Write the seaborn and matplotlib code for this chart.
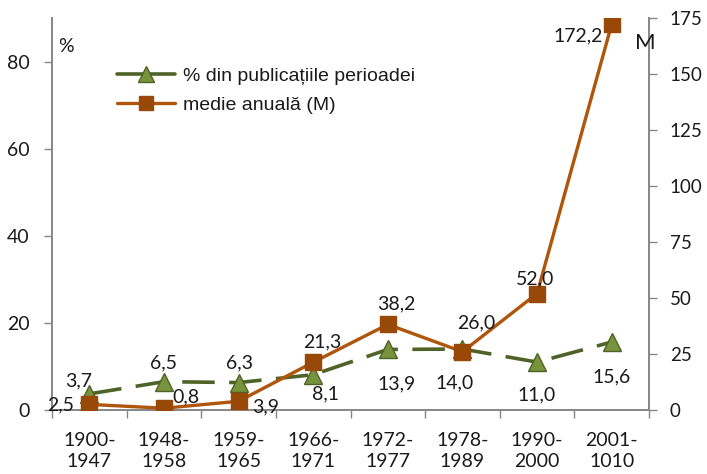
import matplotlib
matplotlib.use("Agg")
import matplotlib.pyplot as plt
import seaborn as sns
import numpy as np
from matplotlib.lines import Line2D

# Periods and series
periods = ["1900-\n1947", "1948-\n1958", "1959-\n1965", "1966-\n1971",
           "1972-\n1977", "1978-\n1989", "1990-\n2000", "2001-\n1010"]
pct_values = [3.7, 6.5, 6.3, 8.1, 13.9, 14.0, 11.0, 15.6]
annual_values = [2.5, 0.8, 3.9, 21.3, 38.2, 26.0, 52.0, 172.2]
pct_name = "% din publicațiile perioadei"
annual_name = "medie anuală (M)"

# label offsets in pixels (dx, dy) for each data label
pct_offsets = [(-11, 13), (0, 19), (1, 20), (12, -19), (9, -34), (-8, -34), (0, -33), (0, -35)]
annual_offsets = [(-29, 0), (22, 11), (27, -6), (9, 20), (9, 21), (14, 29), (-2, 15), (-34, -12)]

sns.set_theme(style="white")
plt.rcParams["font.family"] = ["Lato", "DejaVu Sans"]

GREEN_LINE = "#4F6228"
GREEN_FILL = "#77933C"
ORANGE_LINE = "#AF550C"
ORANGE_FILL = "#984807"
AXIS_GREY = "#868686"
TEXT = "#1a1a1a"
FS = 14

fig = plt.figure(figsize=(7.07, 4.74), dpi=100)
ax = fig.add_axes([52 / 707, 1 - 410 / 474, (649 - 52) / 707, (410 - 18) / 474])
ax2 = ax.twinx()

x = np.arange(len(periods))

sns.lineplot(x=x, y=pct_values, ax=ax, color=GREEN_LINE, linewidth=2.6,
             marker="^", markersize=13, markerfacecolor=GREEN_FILL,
             markeredgecolor=GREEN_LINE, markeredgewidth=1.0, zorder=3)
ax.lines[-1].set_dashes([9, 4])

sns.lineplot(x=x, y=annual_values, ax=ax2, color=ORANGE_LINE, linewidth=2.4,
             marker="s", markersize=11, markerfacecolor=ORANGE_FILL,
             markeredgecolor=ORANGE_FILL, markeredgewidth=1.0, zorder=3)

ax.set_xlim(-0.5, len(periods) - 0.5)
ax.set_ylim(0, 90)
ax2.set_ylim(0, 175)

ax.set_yticks([0, 20, 40, 60, 80])
ax2.set_yticks([0, 25, 50, 75, 100, 125, 150, 175])

# category labels centred, tick marks at category boundaries
ax.set_xticks(np.arange(-0.5, len(periods), 1.0))
ax.set_xticklabels([])
ax.set_xticks(x, minor=True)
ax.set_xticklabels(periods, minor=True)
ax.tick_params(axis="x", which="major", length=6, width=1.0, color=AXIS_GREY, direction="out", bottom=True)
ax.tick_params(axis="x", which="minor", length=0, pad=16, labelsize=FS, labelcolor=TEXT)
ax.tick_params(axis="y", length=6, width=1.0, color=AXIS_GREY, direction="out", left=True,
               labelsize=FS, labelcolor=TEXT, pad=10)
ax2.tick_params(axis="y", length=6, width=1.0, color=AXIS_GREY, direction="out", right=True,
                labelsize=13.5, labelcolor=TEXT, pad=9)
for lbl in ax.get_xticklabels(minor=True):
    lbl.set_linespacing(1.3)

for a in (ax, ax2):
    a.set_xlabel("")
    a.set_ylabel("")
    a.spines["top"].set_visible(False)
    for s in ("left", "right", "bottom"):
        a.spines[s].set_color(AXIS_GREY)
        a.spines[s].set_linewidth(1.2)
ax2.grid(False)
ax.grid(False)

# data labels
for xi, v, (dx, dy) in zip(x, pct_values, pct_offsets):
    ax.annotate(f"{v:.1f}".replace(".", ","), (xi, v), xytext=(dx, dy),
                textcoords="offset pixels", ha="center", va="center",
                fontsize=FS, color=TEXT, zorder=5)
for xi, v, (dx, dy) in zip(x, annual_values, annual_offsets):
    ax2.annotate(f"{v:.1f}".replace(".", ","), (xi, v), xytext=(dx, dy),
                 textcoords="offset pixels", ha="center", va="center",
                 fontsize=FS, color=TEXT, zorder=5)

# axis unit labels
fig.text(66 / 707, 1 - 47 / 474, "%", ha="center", va="center", fontsize=14, color=TEXT)
fig.text(645 / 707, 1 - 43 / 474, "M", ha="center", va="center", fontsize=16, color=TEXT)

handles = [
    Line2D([], [], color=GREEN_LINE, linewidth=2.6, marker="^", markersize=11,
           markerfacecolor=GREEN_FILL, markeredgecolor=GREEN_LINE),
    Line2D([], [], color=ORANGE_LINE, linewidth=2.4, marker="s", markersize=10,
           markerfacecolor=ORANGE_FILL, markeredgecolor=ORANGE_FILL),
]
leg = ax.legend(handles, [pct_name, annual_name], loc="upper left",
                bbox_to_anchor=(117 / 707, 1 - 67 / 474), bbox_transform=fig.transFigure,
                frameon=False, handlelength=3.0, handletextpad=0.4, labelspacing=0.6,
                borderaxespad=0, borderpad=0,
                prop={"family": ["Liberation Sans", "DejaVu Sans"], "size": 14})
for t in leg.get_texts():
    t.set_color(TEXT)

fig.savefig("out.png", dpi=100)
